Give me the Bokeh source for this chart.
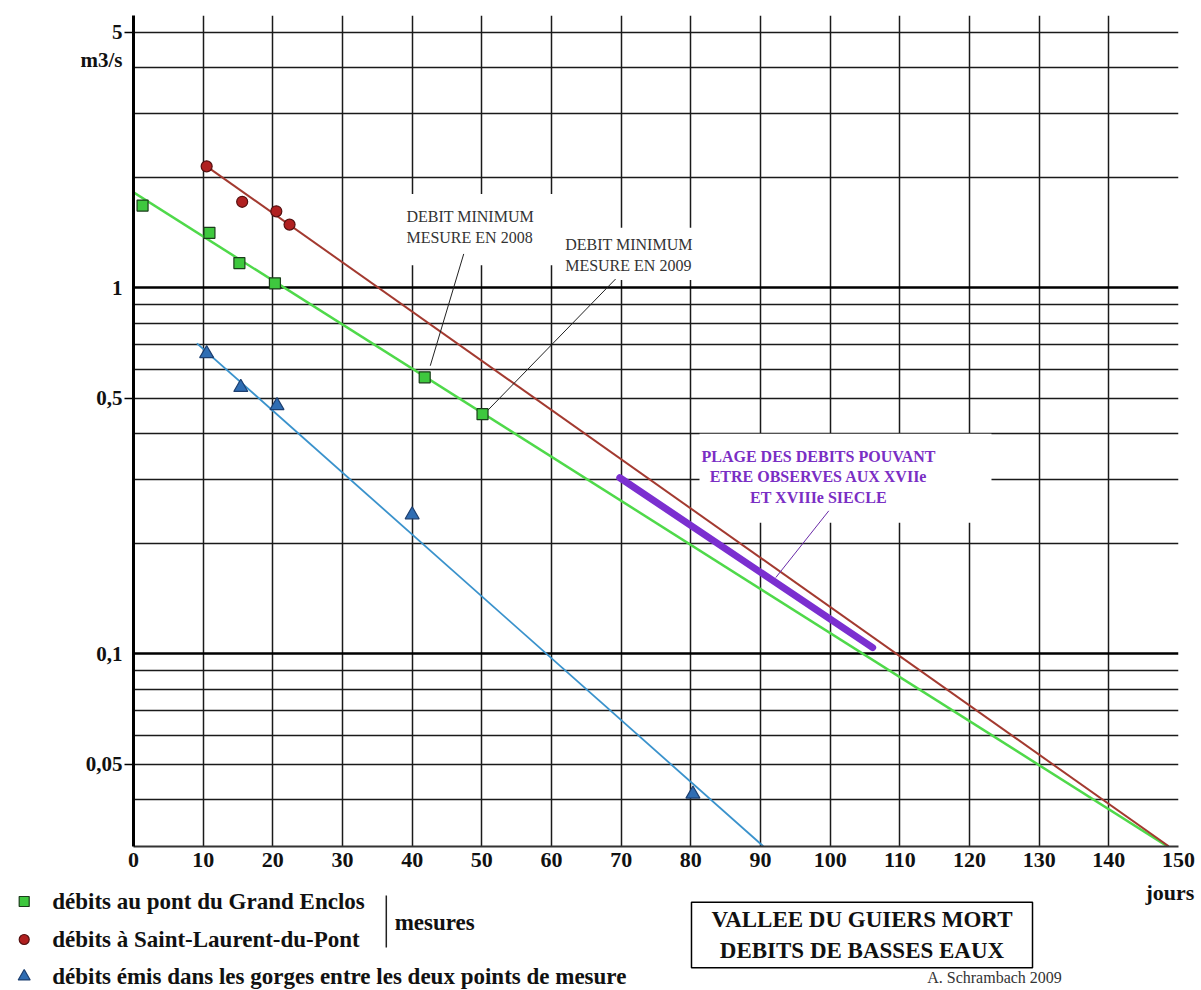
from bokeh.plotting import figure
from bokeh.models import Range1d, FixedTicker, Grid, Label, LogAxis
from bokeh.layouts import column
from bokeh.embed import file_html
from bokeh.resources import INLINE

# ---------------- data (days, m3/s) ----------------
enclos_days = [1.3, 10.9, 15.2, 20.3, 41.8, 50.1]
enclos_flow = [1.68, 1.415, 1.17, 1.03, 0.57, 0.452]

stlaurent_days = [10.5, 15.6, 20.5, 22.4]
stlaurent_flow = [2.15, 1.72, 1.62, 1.49]

gorges_days = [10.5, 15.4, 20.6, 40.0, 80.3]
gorges_flow = [0.662, 0.535, 0.477, 0.240, 0.0414]

enclos_fit_days = [0, 148.4]
enclos_fit_flow = [1.825, 0.0298]
stlaurent_fit_days = [10.5, 148.6]
stlaurent_fit_flow = [2.15, 0.0298]
gorges_fit_days = [9.1, 90.4]
gorges_fit_flow = [0.706, 0.0298]

historic_days = [69.8, 106.1]
historic_flow = [0.303, 0.104]

x_ticks = list(range(0, 151, 10))
y_ticks = [0.05, 0.1, 0.5, 1, 4.21, 5]
y_tick_labels = ["0,05", "0,1", "0,5", "1", "m3/s", "5"]
y_tick_marks = [0.05, 0.5, 5]
y_grid = [0.04, 0.05, 0.06, 0.07, 0.08, 0.09,
          0.2, 0.3, 0.4, 0.5, 0.6, 0.7, 0.8, 0.9,
          2, 3, 4, 5]
y_bold = [0.1, 1]

legend_labels = ["débits au pont du Grand Enclos",
                 "débits à Saint-Laurent-du-Pont",
                 "débits émis dans les gorges entre les deux points de mesure"]

# annotation leader lines (days, m3/s)
leader_2008_days = [47.4, 42.6]
leader_2008_flow = [1.239, 0.613]
leader_2009_days = [69.2, 50.8]
leader_2009_flow = [1.058, 0.462]
leader_plage_days = [99.8, 92.2]
leader_plage_flow = [0.246, 0.1617]

SERIF = "Liberation Serif"
INK = "#111111"

# ================= main chart =================
p = figure(frame_width=1045, frame_height=831,
           x_range=Range1d(0, 150), y_range=Range1d(0.02976, 5.555),
           y_axis_type="log", output_backend="svg", toolbar_location=None,
           min_border_left=133, min_border_right=22, min_border_top=15,
           min_border_bottom=32)
p.outline_line_color = None
p.background_fill_color = "white"
p.border_fill_color = "white"

xa = p.xaxis[0]
xa.ticker = FixedTicker(ticks=x_ticks)
xa.axis_line_width = 2
xa.axis_line_color = "#333333"
xa.major_tick_out = 0
xa.major_tick_in = 0
xa.minor_tick_line_color = None
xa.major_label_standoff = 6
xa.major_label_text_font = SERIF
xa.major_label_text_font_style = "bold"
xa.major_label_text_font_size = "22px"
xa.major_label_text_color = INK

ya = p.yaxis[0]
ya.ticker = FixedTicker(ticks=y_tick_marks)
ya.major_label_overrides = {t: "" for t in y_tick_marks}
ya.axis_line_width = 3
ya.axis_line_color = "black"
ya.major_tick_out = 9
ya.major_tick_in = 0
ya.major_tick_line_width = 1.5
ya.minor_tick_line_color = None
ya.major_label_standoff = 0

ylab = LogAxis(ticker=FixedTicker(ticks=y_ticks),
               major_label_overrides={t: s for t, s in zip(y_ticks, y_tick_labels)},
               axis_line_color=None, major_tick_line_color=None,
               minor_tick_line_color=None, major_tick_out=0, major_tick_in=0,
               major_label_standoff=2, major_label_text_font=SERIF,
               major_label_text_font_style="bold", major_label_text_font_size="21px",
               major_label_text_color=INK)
p.add_layout(ylab, "left")

p.xgrid.ticker = FixedTicker(ticks=x_ticks[1:])
p.xgrid.grid_line_color = "#1a1a1a"
p.xgrid.grid_line_width = 1.5
p.ygrid.ticker = FixedTicker(ticks=y_grid)
p.ygrid.grid_line_color = "#1a1a1a"
p.ygrid.grid_line_width = 1.5
p.add_layout(Grid(dimension=1, ticker=FixedTicker(ticks=y_bold),
                  grid_line_color="black", grid_line_width=2.7))

def note(x, y, text, color, size, style, align, pad, lh=1.2):
    p.add_layout(Label(x=x, y=y, text=text, text_color=color, text_font=SERIF,
                       text_font_size=size, text_font_style=style, text_align=align,
                       text_baseline="middle", text_line_height=lh,
                       background_fill_color="white", padding=pad, level="underlay"))

note(38.6, 1.443, "DEBIT MINIMUM\nMESURE EN 2008", "#333333", "16px", "normal", "left",
     dict(left=4, right=28, top=14, bottom=19), 1.25)
note(61.1, 1.239, "DEBIT MINIMUM\nMESURE EN 2009", "#333333", "16px", "normal", "left",
     dict(left=6, right=8, top=8, bottom=6), 1.25)
note(102.2, 0.302, "PLAGE DES DEBITS POUVANT\nETRE OBSERVES AUX XVIIe\nET XVIIIe SIECLE",
     "#7a2ec4", "16px", "bold", "center", dict(left=2, right=56, top=14, bottom=17), 1.2)

p.line(enclos_fit_days, enclos_fit_flow, line_color="#4fd94a", line_width=2.5)
p.line(stlaurent_fit_days, stlaurent_fit_flow, line_color="#a33a30", line_width=2)
p.line(gorges_fit_days, gorges_fit_flow, line_color="#3a92cc", line_width=1.8)
p.line(historic_days, historic_flow, line_color="#7b2fd0", line_width=7, line_cap="round")

p.line(leader_2008_days, leader_2008_flow, line_color="#222222", line_width=1)
p.line(leader_2009_days, leader_2009_flow, line_color="#222222", line_width=1)
p.line(leader_plage_days, leader_plage_flow, line_color="#6a2aa8", line_width=1)

GREEN = dict(marker="square", fill_color="#3ec83e", line_color="#1a3d1a", line_width=1.2)
RED = dict(marker="circle", fill_color="#b02020", line_color="#551010", line_width=1.2)
BLUE = dict(marker="triangle", fill_color="#2f6db3", line_color="#1d3f70", line_width=1.2)

p.scatter(enclos_days, enclos_flow, size=11, **GREEN)
p.scatter(stlaurent_days, stlaurent_flow, size=11, **RED)
p.scatter(gorges_days, gorges_flow, size=14, **BLUE)

# ================= bottom band (legend, title) =================
# this band is drawn in page-pixel coordinates
TOP, BOTTOM = 878, 990
q = figure(width=1200, height=BOTTOM - TOP, x_range=Range1d(0, 1200),
           y_range=Range1d(BOTTOM, TOP), min_border=0, toolbar_location=None,
           output_backend="svg", x_axis_location=None, y_axis_location=None)
q.grid.visible = False
q.outline_line_color = None
q.background_fill_color = "white"
q.border_fill_color = "white"
for fig in (p, q):
    try:
        fig.frame_align = False
    except Exception:
        pass

legend_x = [23.7, 23.7, 23.7]
legend_y = [901, 939, 976]
q.scatter([legend_x[0]], [legend_y[0]], size=10, **GREEN)
q.scatter([legend_x[1]], [legend_y[1]], size=10, **RED)
q.scatter([legend_x[2]], [legend_y[2]], size=12, **BLUE)

q.segment(x0=[385.8], y0=[895], x1=[385.8], y1=[947], line_color="#222222", line_width=1.5)

def text(x, y, t, size, style="bold", align="left", color=INK, **kw):
    q.add_layout(Label(x=x, y=y, text=t, text_font=SERIF, text_font_size=size,
                       text_font_style=style, text_align=align,
                       text_baseline="middle", text_color=color, **kw))

for lab, yy in zip(legend_labels, legend_y):
    text(51.7, yy, lab, "23px")
text(1145, 892, "jours", "22px")
text(394.2, 922, "mesures", "23px")
text(926.7, 977, "A. Schrambach 2009", "16px", style="normal", color="#333333")
text(861.5, 934.5, "VALLEE DU GUIERS MORT\nDEBITS DE BASSES EAUX", "23px", align="center",
     border_line_color="black", border_line_width=1.5, background_fill_color="white",
     padding=dict(left=20, right=20, top=5, bottom=5), text_line_height=1.22)

open("out.html", "w").write(file_html(column(p, q), INLINE))
